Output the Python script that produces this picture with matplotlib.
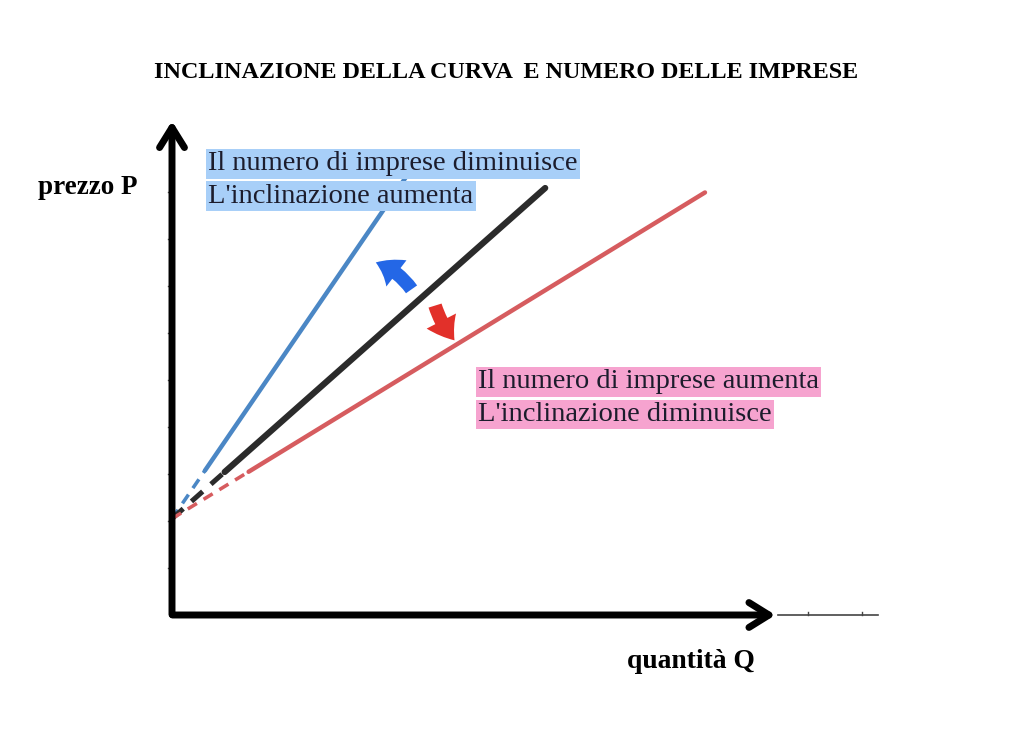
import numpy as np
import matplotlib.pyplot as plt
from matplotlib.patches import FancyArrowPatch

plt.rcParams["font.family"] = ["Liberation Serif", "DejaVu Serif"]

# data (units: one y tick = 1)
intercept = 2.05
names = ["blue", "black", "red"]
slopes = [1.46, 0.886, 0.612]
dash_end_q = [0.70, 1.12, 1.63]
solid_end_q = [5.0, 7.94, 11.34]
line_colors = ["#4b87c5", "#2b2b2b", "#d65c5f"]
line_widths = [3.2, 4.5, 3.2]
y_ticks = [1, 2, 3, 4, 5, 6, 7, 8, 9]
x_ticks_far = [13.53, 14.68]
y_axis_top = 10.57
x_axis_end = 12.9
x_line_end = 15.02

title = "INCLINAZIONE DELLA CURVA  E NUMERO DELLE IMPRESE"
blue_text = ["Il numero di imprese diminuisce", "L'inclinazione aumenta"]
red_text = ["Il numero di imprese aumenta", "L'inclinazione diminuisce"]

px = 47.0
fig = plt.figure(figsize=(10.24, 7.53), dpi=100)
ax = fig.add_axes([0, 0, 1, 1])
ax.set_xlim(-172 / px, (1024 - 172) / px)
ax.set_ylim(-(753 - 615) / px, 615 / px)
ax.axis("off")

# lines: dashed near intercept, solid beyond
for s, qd, qs, c, lw in zip(slopes, dash_end_q, solid_end_q, line_colors, line_widths):
    q1 = np.array([0, qd])
    ax.plot(q1, intercept + s * q1, color=c, lw=lw * 0.8, ls=(0, (3, 2.2)), zorder=3)
    q2 = np.array([qd, qs])
    ax.plot(q2, intercept + s * q2, color=c, lw=lw, solid_capstyle="round", zorder=3)

# axes arrows
head = "->,head_length=0.45,head_width=0.28"
ax.annotate("", xy=(0, y_axis_top), xytext=(0, -0.05),
            arrowprops=dict(arrowstyle=head, lw=5, color="black", mutation_scale=32))
ax.annotate("", xy=(x_axis_end, 0), xytext=(-0.05, 0),
            arrowprops=dict(arrowstyle=head, lw=5, color="black", mutation_scale=32))
ax.plot([x_axis_end, x_line_end], [0, 0], color="#444444", lw=1.2, zorder=1)
for t in x_ticks_far:
    ax.plot([t, t], [0, 0.06], color="#444444", lw=1)
for t in y_ticks:
    ax.plot([-0.08, 0], [t, t], color="#555555", lw=1)

# curved arrows
arrow_style = "simple,tail_width=0.7,head_width=1.7,head_length=1.2"
blue_arrow = FancyArrowPatch((5.13, 6.88), (4.28, 7.52), connectionstyle="arc3,rad=0.18",
                             arrowstyle=arrow_style, lw=0, color="#2467e6",
                             mutation_scale=14, zorder=5)
red_arrow = FancyArrowPatch((5.58, 6.64), (6.05, 5.80), connectionstyle="arc3,rad=0.12",
                            arrowstyle=arrow_style, lw=0, color="#e2302a",
                            mutation_scale=14, zorder=5)
ax.add_patch(blue_arrow)
ax.add_patch(red_arrow)

# highlighted labels
for i, txt in enumerate(blue_text):
    ax.text(0.77, 9.60 - i * 0.69, txt, fontsize=20.5, color="#1c1c2c", va="center", ha="left",
            zorder=6, bbox=dict(boxstyle="square,pad=0.08", fc="#a8cff8", ec="none"))
for i, txt in enumerate(red_text):
    ax.text(6.51, 4.96 - i * 0.69, txt, fontsize=20.5, color="#1c1c2c", va="center", ha="left",
            zorder=6, bbox=dict(boxstyle="square,pad=0.08", fc="#f6a3cf", ec="none"))

ax.text(7.10, 11.55, title, fontsize=17.4, fontweight="bold", ha="center", va="center")
ax.text(-1.79, 9.09, "prezzo P", fontsize=19.5, fontweight="bold", ha="center", va="center")
ax.text(11.04, -1.00, "quantità Q", fontsize=19.9, fontweight="bold", ha="center", va="center")

fig.savefig("out.png", dpi=100, facecolor="white")
